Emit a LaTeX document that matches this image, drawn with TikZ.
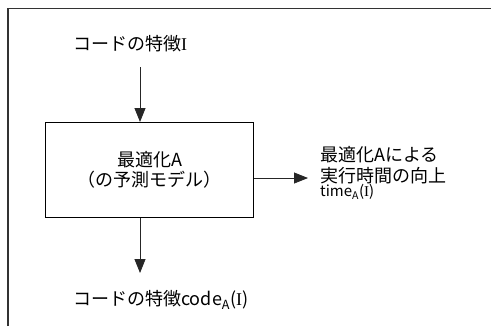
\documentclass[tikz,border=0pt]{standalone}
\usepackage{fontspec}
\setmainfont{Noto Sans CJK JP}
\newfontfamily\serifI{Liberation Serif}
\usetikzlibrary{arrows.meta}
\begin{document}
\begin{tikzpicture}[x=1bp,y=-1bp,
  arr/.style={draw=black!85, line width=0.8bp, -{Triangle[width=11bp,length=14bp]}},
  lbl/.style={font=\fontsize{18bp}{20bp}\selectfont, inner sep=0pt, align=center},
  small/.style={font=\fontsize{15bp}{16bp}\selectfont, inner sep=0pt}]
\useasboundingbox (0,0) rectangle (491,326);
\draw[line width=1.2bp, black!80] (8,326) -- (8,8.5) -- (491,8.5);
\node[lbl, anchor=west] (in) at (73,44) {コードの特徴{\serifI I}};
\node[draw, line width=1bp, minimum width=208bp, minimum height=95bp, lbl, anchor=north west] (box) at (45,122) {最適化A\\（の予測モデル）};
\coordinate (inS) at (140,67);
\coordinate (outE) at (140,273);
\coordinate (rt) at (308,178);
\draw[arr] (inS) -- (inS |- box.north);
\draw[arr] (outE |- box.south) -- (outE);
\draw[arr] (rt -| box.east) -- (rt);
\node[lbl, anchor=west] (r1) at (320,155) {最適化Aによる};
\node[lbl, anchor=west] (r2) at (320,176) {実行時間の向上};
\node[small, anchor=west] (r3) at (320,192) {time\textsubscript{A}({\serifI I})};
\node[lbl, anchor=west] (out) at (73,300) {コードの特徴code\textsubscript{A}({\serifI I})};
\end{tikzpicture}
\end{document}
